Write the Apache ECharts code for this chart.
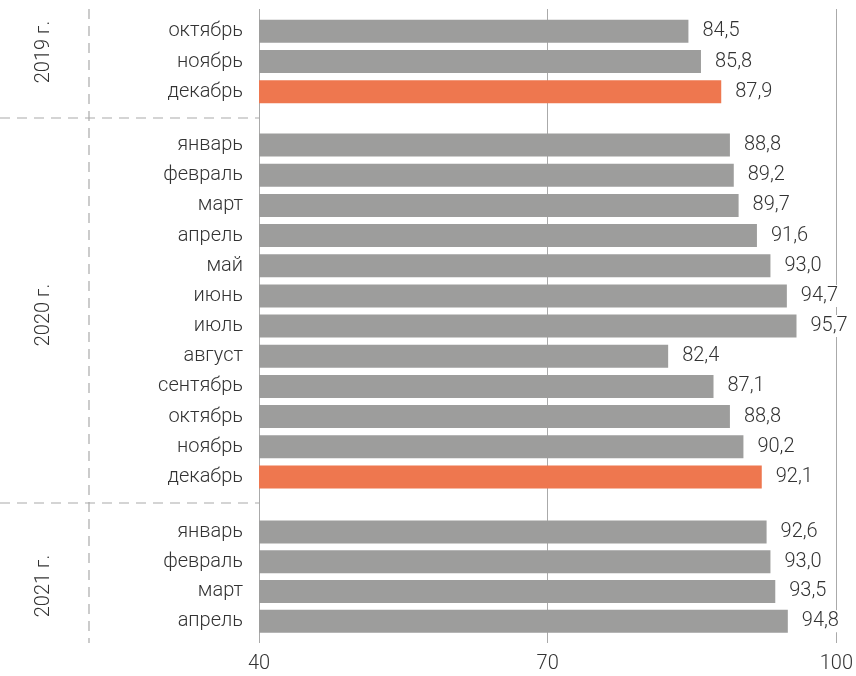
<!DOCTYPE html>
<html>
<head>
<meta charset="utf-8">
<script src="https://cdn.jsdelivr.net/npm/echarts@6/dist/echarts.min.js"></script>
<style>html,body{margin:0;padding:0;background:#fff}#c{width:856px;height:676px}</style>
</head>
<body>
<div id="c"></div>
<script>
// ---- data ----
var years = ['2019 г.', '2020 г.', '2021 г.'];
var months2019 = ['октябрь', 'ноябрь', 'декабрь'];
var values2019 = [84.5, 85.8, 87.9];
var months2020 = ['январь', 'февраль', 'март', 'апрель', 'май', 'июнь', 'июль', 'август', 'сентябрь', 'октябрь', 'ноябрь', 'декабрь'];
var values2020 = [88.8, 89.2, 89.7, 91.6, 93.0, 94.7, 95.7, 82.4, 87.1, 88.8, 90.2, 92.1];
var months2021 = ['январь', 'февраль', 'март', 'апрель'];
var values2021 = [92.6, 93.0, 93.5, 94.8];
var highlighted = ['декабрь'];
var xTicks = [40, 70, 100];

var GRAY = '#9d9d9c', ORANGE = '#ee774f', TEXT = '#333333', LINE = '#aaaaaa';
var FONT = 'Roboto';
var FS = 20;
var chart = echarts.init(document.getElementById('c'));

var groups = [
  {cats: months2019, vals: values2019, top: 16, height: 91},
  {cats: months2020, vals: values2020, top: 130, height: 362},
  {cats: months2021, vals: values2021, top: 517, height: 119}
];
var LEFT = 259, RIGHT = 18;

var grids = [{left: LEFT, right: RIGHT, top: 9, bottom: 33}];
var xAxes = [{
  gridIndex: 0, type: 'value', min: xTicks[0], max: xTicks[xTicks.length - 1], interval: xTicks[1] - xTicks[0],
  axisLine: {show: false}, axisTick: {show: false},
  splitLine: {show: true, lineStyle: {color: LINE, width: 1}},
  axisLabel: {color: TEXT, fontSize: FS, fontFamily: FONT, fontWeight: 300, margin: 11}
}];
var yAxes = [{gridIndex: 0, type: 'category', data: [''], show: false}];
var series = [];

groups.forEach(function (g, i) {
  var gi = i + 1;
  grids.push({left: LEFT, right: RIGHT, top: g.top, height: g.height});
  xAxes.push({gridIndex: gi, type: 'value', min: xTicks[0], max: xTicks[xTicks.length - 1], show: false, splitLine: {show: false}});
  yAxes.push({
    gridIndex: gi, type: 'category', data: g.cats, inverse: true,
    axisLine: {show: false}, axisTick: {show: false},
    axisLabel: {color: TEXT, fontSize: FS, fontFamily: FONT, fontWeight: 300, margin: 16}
  });
  series.push({
    type: 'bar', xAxisIndex: gi, yAxisIndex: gi, barWidth: 23,
    data: g.vals.map(function (v, k) {
      var hl = (k === g.cats.length - 1) && highlighted.indexOf(g.cats[k]) >= 0 && i < 2;
      return {value: v, itemStyle: {color: hl ? ORANGE : GRAY}};
    }),
    label: {
      show: true, position: 'right', distance: 13, color: TEXT, fontSize: FS, fontFamily: FONT, fontWeight: 300,
      backgroundColor: '#fff', padding: [1, 1],
      formatter: function (p) { return p.value.toFixed(1).replace('.', ','); }
    },
    silent: true
  });
});

var dash = {stroke: LINE, lineWidth: 1.2, lineDash: [10, 7]};
var graphics = [
  {type: 'line', shape: {x1: 89, y1: 9, x2: 89, y2: 643}, style: dash, z: 0},
  {type: 'line', shape: {x1: 0, y1: 118, x2: 259, y2: 118}, style: dash, z: 0},
  {type: 'line', shape: {x1: 0, y1: 503, x2: 259, y2: 503}, style: dash, z: 0}
];
var yearCenters = [52, 315, 586];
years.forEach(function (y, i) {
  graphics.push({
    type: 'text', x: 44, y: yearCenters[i], rotation: Math.PI / 2,
    style: {text: y, fill: TEXT, font: '300 ' + FS + 'px ' + FONT, textAlign: 'center', textVerticalAlign: 'middle'}
  });
});

chart.setOption({
  animation: false,
  backgroundColor: '#fff',
  grid: grids, xAxis: xAxes, yAxis: yAxes, series: series,
  graphic: graphics
});
</script>
</body>
</html>
